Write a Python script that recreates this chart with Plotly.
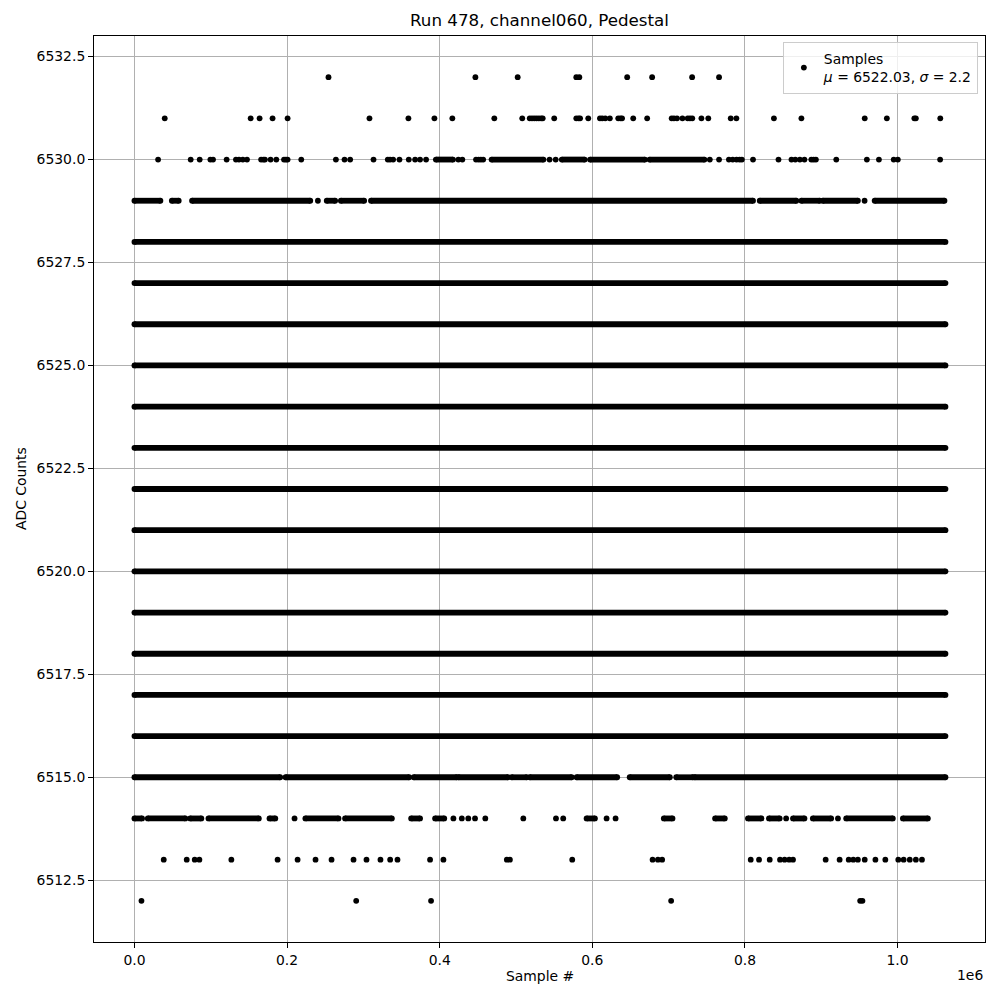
import plotly.graph_objects as go

# ADC levels that are populated across the whole run
full_levels = [6516, 6517, 6518, 6519, 6520, 6521, 6522, 6523, 6524, 6525, 6526, 6527, 6528]
first_sample = 0
last_sample = 1062800

# Runs of consecutive samples on the partially populated levels (start, end)
runs_6530 = [(395000, 417500), (468000, 536000), (560000, 590000), (597000, 669000), (675000, 747000)]
runs_6529 = [(0, 34000), (49000, 58000), (75500, 230400), (252000, 263000), (270500, 301000),
             (310000, 810600), (819400, 867400), (874000, 898000), (902000, 948000), (970000, 1061500)]
runs_6515 = [(0, 191000), (198000, 360000), (366000, 422400), (424500, 489500), (494400, 514000),
             (518000, 573000), (579400, 632600), (649000, 701600), (710000, 732000), (734000, 1062800)]
runs_6514 = [(0, 10000), (17500, 66800), (73000, 87700), (97000, 163000), (177000, 184600),
             (224000, 267400), (276000, 337300), (362600, 374300), (394000, 406000), (592500, 603400),
             (693700, 705100), (760900, 773600), (804000, 821600), (831500, 845500), (863000, 878000),
             (889000, 913000), (932700, 993800), (1007000, 1039700)]

# Isolated samples per level
dots_6532 = [254300, 446800, 502200, 579000, 583000, 645700, 678400, 730800, 766100]
dots_6531 = [39700, 152300, 164000, 181000, 200700, 308000, 359000, 393100, 416600, 471600,
             508200, 518000, 521000, 524000, 527000, 530000, 533000, 535000, 550100, 579000,
             582000, 584000, 594700, 610000, 613000, 617000, 623000, 634000, 637000, 639000,
             653600, 671900, 704000, 707000, 711000, 718100, 725000, 728000, 731000, 743000,
             752000, 781400, 788800, 838000, 874000, 957000, 986000, 1022000, 1024000, 1056000]
dots_6530 = [31000, 73700, 85500, 99500, 103000, 120800, 133000, 137000, 142000, 147500,
             166000, 169000, 171000, 178400, 185900, 196000, 198500, 200700, 218600, 264000,
             275300, 282700, 313300, 332000, 335000, 339000, 347300, 359500, 367800, 374300,
             382200, 424500, 429700, 447600, 451000, 454000, 457000, 544000, 552000, 754000,
             766100, 779000, 784000, 789000, 793000, 796000, 810600, 844000, 861000, 866000,
             872000, 878000, 887000, 890000, 893000, 919700, 959800, 975600, 995000, 1000400,
             1055800]
dots_6529 = [240400, 956800]
dots_6514 = [209800, 418000, 429000, 437500, 446300, 459800, 509600, 552400, 561900, 618700,
             630500, 854000, 921900]
dots_6513 = [38400, 68500, 79000, 85100, 127000, 187600, 213800, 237300, 258300, 287100,
             304100, 322400, 335100, 344700, 387400, 404900, 488000, 492000, 573700, 679000,
             686000, 691500, 807600, 818500, 832500, 846000, 852000, 858000, 863000, 905800,
             924100, 936000, 942000, 948000, 957000, 971000, 984000, 1001000, 1008000, 1016000,
             1024000, 1032000]
dots_6512 = [9200, 290600, 388700, 703300, 951000, 954000]

x_ticks = [0, 200000, 400000, 600000, 800000, 1000000]
x_tick_text = ["0.0", "0.2", "0.4", "0.6", "0.8", "1.0"]
y_ticks = [6512.5, 6515.0, 6517.5, 6520.0, 6522.5, 6525.0, 6527.5, 6530.0, 6532.5]

FONT = "DejaVu Sans"
DOT = 5.8

# Assemble run segments (separated by None so they draw as one trace)
run_x, run_y = [], []
for lvl in full_levels:
    run_x += [first_sample, last_sample, None]
    run_y += [lvl, lvl, None]
for lvl, runs in [(6530, runs_6530), (6529, runs_6529), (6515, runs_6515), (6514, runs_6514)]:
    for s, e in runs:
        run_x += [s, e, None]
        run_y += [lvl, lvl, None]

dot_x, dot_y = [], []
for lvl, xs in [(6532, dots_6532), (6531, dots_6531), (6530, dots_6530), (6529, dots_6529),
                (6514, dots_6514), (6513, dots_6513), (6512, dots_6512)]:
    dot_x += xs
    dot_y += [lvl] * len(xs)

fig = go.Figure()
fig.add_trace(go.Scatter(
    x=run_x, y=run_y, mode="lines+markers",
    line=dict(color="black", width=DOT),
    marker=dict(color="black", size=DOT),
    showlegend=False, hoverinfo="skip",
))
fig.add_trace(go.Scatter(
    x=dot_x, y=dot_y, mode="markers",
    marker=dict(color="black", size=DOT),
    name="Samples<br><i>μ</i> = 6522.03, <i>σ</i> = 2.2",
))

axis_common = dict(
    showgrid=True, gridcolor="#b0b0b0", gridwidth=0.8,
    zeroline=False, showline=True, linecolor="black", linewidth=1, mirror=True,
    ticks="outside", ticklen=5, tickwidth=0.8, tickcolor="black",
    tickfont=dict(family=FONT, size=13.9, color="black"),
)

fig.update_layout(
    width=1000, height=1000,
    margin=dict(l=94, r=15, t=36, b=58),
    paper_bgcolor="white", plot_bgcolor="white",
    font=dict(family=FONT, size=13.9, color="black"),
    title=dict(text="Run 478, channel060, Pedestal", x=0.5, xref="paper",
               y=0.98, yref="container", xanchor="center", yanchor="middle",
               font=dict(family=FONT, size=16.7, color="black")),
    xaxis=dict(range=[-53000, 1114600], tickvals=x_ticks, ticktext=x_tick_text, **axis_common),
    yaxis=dict(range=[6511, 6533], tickvals=y_ticks,
               ticktext=[f"{v:.1f}" for v in y_ticks], **axis_common),
    legend=dict(x=0.992, y=0.9934, xanchor="right", yanchor="top",
                bgcolor="rgba(255,255,255,0.8)", bordercolor="#cccccc", borderwidth=1,
                font=dict(family=FONT, size=13.9, color="black"), valign="middle"),
    annotations=[
        dict(text="1e6", x=1, xref="paper", xanchor="right", y=-0.036, yref="paper",
             yanchor="middle", showarrow=False, font=dict(family=FONT, size=13.9)),
        dict(text="Sample #", x=0.5, xref="paper", xanchor="center", y=-0.0375, yref="paper",
             yanchor="middle", showarrow=False, font=dict(family=FONT, size=13.9)),
        dict(text="ADC Counts", x=21, xref="x domain", xanchor="center", y=0.5, yref="paper",
             yanchor="middle", showarrow=False, textangle=-90, font=dict(family=FONT, size=13.9)),
    ],
)
# place the y label by pixel offset from the plot's left edge
fig.layout.annotations[2].update(x=-(94 - 21) / 891, xref="paper")

fig.write_html("out.html")
